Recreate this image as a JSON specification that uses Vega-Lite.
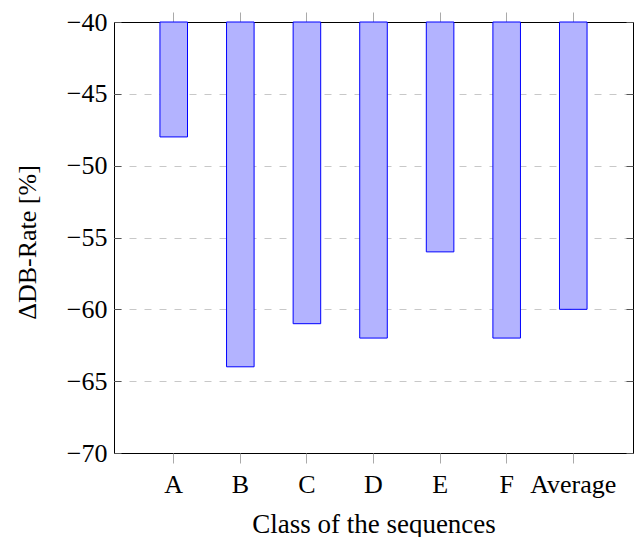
{
  "$schema": "https://vega.github.io/schema/vega-lite/v6.json",
  "autosize": "none",
  "padding": {"left": 114, "top": 22, "right": 4, "bottom": 84},
  "width": 519,
  "height": 431,
  "background": "white",
  "config": {
    "view": {"stroke": "black", "strokeWidth": 1},
    "font": "Liberation Serif"
  },
  "data": {
    "values": [
      {"cls": "A", "rate": -48},
      {"cls": "B", "rate": -64},
      {"cls": "C", "rate": -61},
      {"cls": "D", "rate": -62},
      {"cls": "E", "rate": -56},
      {"cls": "F", "rate": -62},
      {"cls": "Average", "rate": -60}
    ]
  },
  "layer": [
    {
      "mark": {"type": "bar", "fill": "#b3b3ff", "stroke": "#0000ff", "strokeWidth": 1},
      "encoding": {
        "x": {
          "field": "cls", "type": "nominal", "sort": null,
          "scale": {"paddingInner": 0.586, "paddingOuter": 0.69},
          "axis": {
            "orient": "bottom", "title": "Class of the sequences", "labelAngle": 0,
            "domain": false, "ticks": true, "tickSize": 10, "tickColor": "#aaaaaa", "tickWidth": 1,
            "labelFont": "Liberation Serif", "labelFontSize": 26, "labelColor": "black",
            "labelBaseline": "alphabetic", "labelPadding": 29,
            "titleFont": "Liberation Serif", "titleFontSize": 27, "titleFontWeight": "normal", "titleColor": "black",
            "titleBaseline": "alphabetic", "titleY": 79
          }
        },
        "y": {
          "field": "rate", "type": "quantitative",
          "scale": {"domain": [-70, -40], "nice": false, "zero": false},
          "axis": {
            "orient": "left", "title": "ΔDB-Rate [%]", "values": [-70, -65, -60, -55, -50, -45, -40],
            "labelExpr": "replace(datum.label, '-', '−')",
            "domain": false, "ticks": true, "tickSize": -7, "tickColor": "#555555",
            "grid": true, "gridDash": [7, 8], "gridColor": "#c8c8c8", "gridWidth": 1,
            "gridOpacity": {"condition": {"test": "datum.value <= -70 || datum.value >= -40", "value": 0}, "value": 1},
            "labelFont": "Liberation Serif", "labelFontSize": 26, "labelColor": "black",
            "labelPadding": 14, "labelBaseline": "middle",
            "titleFont": "Liberation Serif", "titleFontSize": 26, "titleFontWeight": "normal", "titleColor": "black",
            "titleX": -87, "titleY": 220, "titleBaseline": "middle", "titleAlign": "center", "titleAngle": -90
          }
        },
        "y2": {"datum": -40}
      }
    },
    {
      "mark": {"type": "bar", "opacity": 0},
      "encoding": {
        "x": {
          "field": "cls", "type": "nominal", "sort": null,
          "scale": {"paddingInner": 0.586, "paddingOuter": 0.69},
          "axis": {
            "orient": "top", "title": null, "labels": false, "domain": false,
            "ticks": true, "tickSize": 10, "tickColor": "#aaaaaa", "grid": false
          }
        },
        "y": {
          "field": "rate", "type": "quantitative",
          "scale": {"domain": [-70, -40], "nice": false, "zero": false},
          "axis": {
            "orient": "right", "title": null, "labels": false, "domain": false,
            "values": [-70, -65, -60, -55, -50, -45, -40],
            "ticks": true, "tickSize": -7, "tickColor": "#555555", "grid": false
          }
        },
        "y2": {"datum": -40}
      }
    }
  ],
  "resolve": {"axis": {"x": "independent", "y": "independent"}}
}
